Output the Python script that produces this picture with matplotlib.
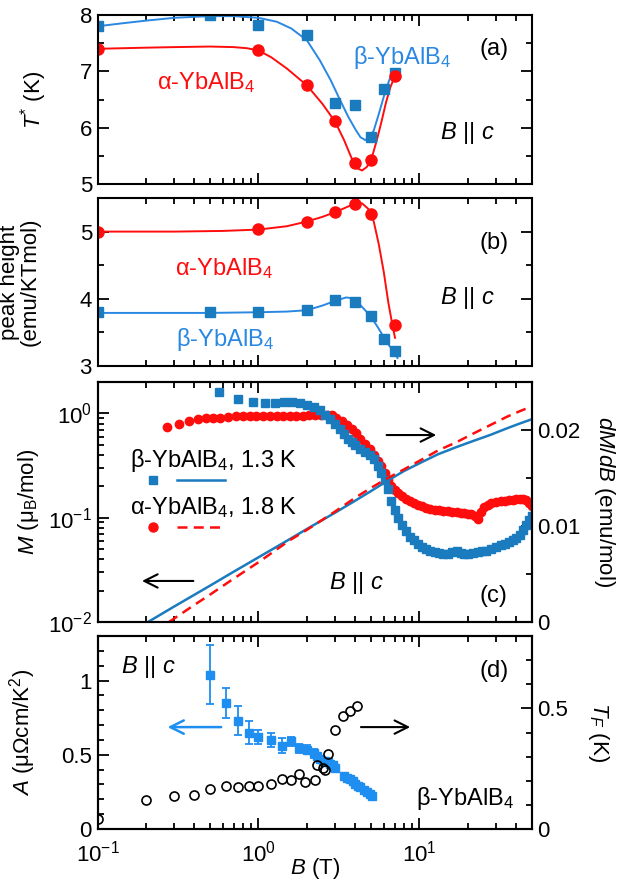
import numpy as np
import matplotlib
matplotlib.use('Agg')
import matplotlib.pyplot as plt
from matplotlib.ticker import MultipleLocator, LogLocator, NullFormatter, FuncFormatter

plt.rcParams['font.family'] = ['Liberation Sans', 'DejaVu Sans']
plt.rcParams['mathtext.fontset'] = 'custom'
plt.rcParams['mathtext.rm'] = 'Liberation Sans'
plt.rcParams['mathtext.it'] = 'Liberation Sans:italic'
plt.rcParams['mathtext.bf'] = 'Liberation Sans:bold'
plt.rcParams['font.size'] = 16

# ---------------- data ----------------
# (a) T* (K)
a_B_beta = [0.1, 0.5, 1.0, 2.0, 3.0, 4.0, 5.0, 6.0, 7.0]
a_T_beta = [7.80, 8.00, 7.83, 7.65, 6.44, 6.40, 5.83, 6.69, 6.97]
a_B_alpha = [0.1, 1.0, 2.0, 3.0, 4.0, 5.0, 7.0]
a_T_alpha = [7.40, 7.37, 6.75, 6.11, 5.37, 5.42, 6.91]
a_fitB_beta = [0.1, 0.15, 0.2, 0.3, 0.5, 0.7, 1.0, 1.3, 1.6, 2.0, 2.4, 2.8, 3.2, 3.6,
               4.0, 4.3, 4.6, 4.9, 5.2, 5.6, 6.0, 6.5, 7.0]
a_fitT_beta = [7.80, 7.86, 7.90, 7.95, 7.98, 7.98, 7.95, 7.88, 7.76, 7.55, 7.20, 6.85,
               6.50, 6.20, 5.97, 5.83, 5.78, 5.82, 5.95, 6.25, 6.55, 6.85, 7.02]
a_fitB_alpha = [0.1, 0.2, 0.3, 0.5, 0.7, 0.85, 1.0, 1.2, 1.5, 2.0, 2.5, 3.0, 3.4, 3.8,
                4.1, 4.4, 4.7, 5.0, 5.4, 5.8, 6.2, 6.6, 7.0]
a_fitT_alpha = [7.40, 7.42, 7.43, 7.44, 7.43, 7.41, 7.37, 7.25, 7.05, 6.75, 6.42, 6.10,
                5.78, 5.45, 5.28, 5.24, 5.30, 5.42, 5.75, 6.10, 6.45, 6.72, 6.90]

# (b) peak height (emu/KTmol)
b_B_alpha = [0.1, 1.0, 2.0, 3.0, 4.0, 5.0, 7.0]
b_P_alpha = [5.00, 5.04, 5.15, 5.29, 5.41, 5.26, 3.61]
b_B_beta = [0.1, 0.5, 1.0, 2.0, 3.0, 4.0, 5.0, 6.0, 7.0]
b_P_beta = [3.80, 3.80, 3.81, 3.83, 3.98, 3.95, 3.75, 3.40, 3.22]
b_fitB_alpha = [0.1, 0.3, 0.6, 1.0, 1.5, 2.0, 2.5, 3.0, 3.5, 4.0, 4.4, 4.8, 5.2, 5.6,
                6.0, 6.4, 6.8, 7.05]
b_fitP_alpha = [5.00, 5.00, 5.01, 5.03, 5.08, 5.15, 5.22, 5.29, 5.36, 5.42, 5.42, 5.34,
                5.15, 4.80, 4.40, 3.95, 3.60, 3.42]
b_fitB_beta = [0.1, 0.5, 1.0, 1.5, 2.0, 2.5, 3.0, 3.5, 3.8, 4.2, 4.6, 5.0, 5.5, 6.0,
               6.5, 7.0, 7.3]
b_fitP_beta = [3.79, 3.79, 3.80, 3.81, 3.83, 3.90, 3.97, 4.02, 4.01, 3.93, 3.83, 3.73,
               3.58, 3.43, 3.30, 3.20, 3.12]

# (c) magnetization M (muB/mol), left log axis
c_MB_beta = [0.206, 0.3, 0.5, 0.7, 1.0, 1.5, 2.0, 3.0, 4.0, 5.0, 6.3, 8.0, 10.5, 13.0,
             17.0, 22.0, 27.4, 35.0, 42.0, 50.0]
c_M_beta = [0.0100, 0.0141, 0.0223, 0.0303, 0.0417, 0.060, 0.078, 0.112, 0.146, 0.180,
            0.225, 0.28, 0.345, 0.405, 0.476, 0.55, 0.62, 0.72, 0.80, 0.88]
c_MB_alpha = [0.278, 0.4, 0.5, 0.7, 1.0, 1.57, 2.0, 3.0, 4.0, 5.0, 6.2, 8.0, 10.5, 13.0,
              17.0, 22.0, 27.4, 35.0, 42.0, 50.0]
c_M_alpha = [0.0100, 0.0146, 0.0183, 0.0260, 0.0374, 0.0610, 0.0765, 0.115, 0.156,
             0.193, 0.235, 0.29, 0.366, 0.44, 0.53, 0.65, 0.77, 0.93, 1.05, 1.17]
# (c) dM/dB (emu/mol), right axis
c_dB_beta = [0.565, 0.75, 0.92, 1.1, 1.27, 1.45, 1.62, 1.8, 2.0, 2.2, 2.4, 2.6, 2.8, 3.0,
             3.2, 3.4, 3.6, 3.8, 4.0, 4.3, 4.6, 4.9, 5.2, 5.5, 5.8, 6.1, 6.4, 6.7, 7.0,
             7.4, 7.8, 8.2, 8.7, 9.2, 9.8, 10.4, 11.0, 11.7, 12.4, 13.2, 14.0, 15.0, 16.0,
             17.0, 18.0, 19.0, 20.0, 21.5, 23.0, 24.5, 26.0, 28.0, 30.0, 32.0, 34.0, 36.0,
             38.0, 40.0, 42.0, 44.0, 46.0, 48.0, 50.0]
c_d_beta = [0.0240, 0.0232, 0.0229, 0.0228, 0.0228, 0.0229, 0.0229, 0.0228, 0.0226,
            0.0224, 0.0221, 0.0216, 0.0211, 0.0206, 0.0201, 0.0196, 0.0191, 0.0187,
            0.0184, 0.0180, 0.0177, 0.0174, 0.0170, 0.0163, 0.0155, 0.0148, 0.0139,
            0.0126, 0.0117, 0.0108, 0.0101, 0.0095, 0.0089, 0.0085, 0.0081, 0.0078,
            0.0076, 0.0074, 0.0073, 0.0072, 0.0071, 0.0071, 0.0073, 0.0074, 0.0072,
            0.0071, 0.0071, 0.0072, 0.0073, 0.0074, 0.0074, 0.0076, 0.0078, 0.0080,
            0.0081, 0.0083, 0.0085, 0.0088, 0.0091, 0.0096, 0.0101, 0.0106, 0.0110]
c_dB_alpha = [0.27, 0.32, 0.37, 0.42, 0.47, 0.52, 0.58, 0.65, 0.72, 0.8, 0.88, 0.97, 1.07,
              1.18, 1.3, 1.43, 1.57, 1.72, 1.88, 2.05, 2.25, 2.45, 2.65, 2.85, 3.05, 3.3,
              3.55, 3.8, 4.05, 4.3, 4.6, 4.9, 5.2, 5.5, 5.8, 6.1, 6.4, 6.7, 7.0, 7.4, 7.8,
              8.2, 8.7, 9.2, 9.8, 10.4, 11.0, 11.7, 12.4, 13.2, 14.0, 15.0, 16.0, 17.0,
              18.0, 19.0, 20.0, 21.0, 22.0, 23.0, 24.0, 25.0, 26.5, 28.0, 30.0, 32.0, 34.0,
              36.0, 38.0, 40.0, 42.0, 44.0, 46.0, 48.0, 50.0]
c_d_alpha = [0.0203, 0.0206, 0.0209, 0.0211, 0.0212, 0.0213, 0.0213, 0.0214, 0.0215,
             0.0215, 0.0215, 0.0215, 0.0215, 0.0215, 0.0215, 0.0215, 0.0215, 0.0215,
             0.0215, 0.0216, 0.0216, 0.0216, 0.0216, 0.0216, 0.0213, 0.0209, 0.0205,
             0.0201, 0.0197, 0.0191, 0.0185, 0.0180, 0.0174, 0.0168, 0.0162, 0.0155,
             0.0148, 0.0142, 0.0138, 0.0134, 0.0131, 0.0128, 0.0126, 0.0124, 0.0122,
             0.0121, 0.0119, 0.0118, 0.0117, 0.0117, 0.0116, 0.0116, 0.0115, 0.0115,
             0.0114, 0.0114, 0.0113, 0.0112, 0.0110, 0.0107, 0.0115, 0.0120, 0.0122,
             0.0124, 0.0125, 0.0126, 0.0126, 0.0127, 0.0127, 0.0128, 0.0128, 0.0128,
             0.0127, 0.0124, 0.0121]

# (d) A coefficient (muOhm cm/K^2), left axis
d_B_A = [0.5, 0.63, 0.75, 0.87, 1.0, 1.19, 1.4, 1.59, 1.79, 2.0, 2.2, 2.3, 2.4, 2.5,
         2.6, 2.7, 2.8, 2.9, 3.0, 3.4, 3.55, 3.7, 3.85, 4.0, 4.15, 4.3, 4.5, 4.7, 4.9,
         5.1]
d_A = [1.04, 0.85, 0.73, 0.65, 0.62, 0.60, 0.56, 0.59, 0.545, 0.535, 0.51, 0.49, 0.47,
       0.46, 0.455, 0.45, 0.44, 0.43, 0.41, 0.355, 0.345, 0.335, 0.32, 0.305, 0.29, 0.28,
       0.265, 0.25, 0.235, 0.225]
d_Aerr = [0.20, 0.10, 0.10, 0.075, 0.05, 0.05, 0.05, 0.03, 0.03, 0.03, 0.03, 0.02, 0.02,
          0.02, 0.02, 0.02, 0.015, 0.015, 0.015, 0.01, 0.01, 0.01, 0.01, 0.01, 0.01, 0.01,
          0.01, 0.01, 0.01, 0.01]
# (d) T_F (K), right axis
d_B_TF = [0.1, 0.2, 0.3, 0.4, 0.5, 0.63, 0.75, 0.87, 1.0, 1.19, 1.4, 1.59, 1.79, 1.95,
          2.25, 2.3, 2.5, 2.6, 2.7, 3.0, 3.33, 3.7, 4.1]
d_TF = [0.04, 0.12, 0.138, 0.142, 0.165, 0.179, 0.176, 0.179, 0.18, 0.186, 0.208, 0.203,
        0.228, 0.195, 0.203, 0.265, 0.253, 0.245, 0.31, 0.41, 0.47, 0.49, 0.51]

# ---------------- style ----------------
RED = '#ff0d0d'
BLUE_M = '#1a7bbf'
BLUE_L = '#2a88e2'
BLUE_D = '#1e8ef0'
TICK_FS = 16
LAB_FS = 16
TXT_FS = 17

W, H = 633, 884
fig = plt.figure(figsize=(W / 100, H / 100), dpi=100)
L, R = 97.5, 532


def make_ax(top, bottom):
    return fig.add_axes([L / W, 1 - bottom / H, (R - L) / W, (bottom - top) / H])


def style(ax, right=True):
    ax.tick_params(which='both', direction='in', top=True, right=right, width=1.3,
                   labelsize=TICK_FS)
    ax.tick_params(which='major', length=8, pad=4)
    ax.tick_params(which='minor', length=4)
    for sp in ax.spines.values():
        sp.set_linewidth(1.5)


def style_twin(ax):
    ax.tick_params(which='both', direction='in', right=True, width=1.3,
                   labelsize=TICK_FS)
    ax.tick_params(which='major', length=8, pad=4)
    ax.tick_params(which='minor', length=4)
    for sp in ax.spines.values():
        sp.set_linewidth(1.5)


def xlog(ax, labels=False):
    ax.set_xscale('log')
    ax.set_xlim(0.1, 50)
    ax.xaxis.set_major_locator(LogLocator(base=10))
    ax.xaxis.set_minor_locator(LogLocator(base=10, subs=np.arange(2, 10)))
    ax.xaxis.set_minor_formatter(NullFormatter())
    if not labels:
        ax.xaxis.set_major_formatter(NullFormatter())


fmt = FuncFormatter(lambda v, p: '0' if abs(v) < 1e-12 else f'{v:g}')
ARROW = '->,head_length=0.6,head_width=0.3'

# ---------- panel (a) ----------
axa = make_ax(15, 184)
xlog(axa)
axa.plot(a_fitB_beta, a_fitT_beta, color=BLUE_L, lw=1.4)
axa.plot(a_fitB_alpha, a_fitT_alpha, color=RED, lw=1.4)
axa.plot(a_B_beta, a_T_beta, 's', color=BLUE_M, ms=7.5, ls='none')
axa.plot(a_B_alpha, a_T_alpha, 'o', color=RED, ms=8, ls='none')
axa.set_ylim(5, 8)
axa.yaxis.set_major_locator(MultipleLocator(1))
axa.yaxis.set_minor_locator(MultipleLocator(0.5))
style(axa)
axa.set_ylabel(r'$T^{*}$ (K)', fontsize=LAB_FS)
axa.yaxis.set_label_coords(-0.112, 0.5)
axa.text(0.588, 0.75, r'β-YbAlB$_4$', color=BLUE_L, transform=axa.transAxes,
         fontsize=TXT_FS, va='center')
axa.text(0.912, 0.80, '(a)', transform=axa.transAxes, fontsize=TXT_FS, ha='center',
         va='center')
axa.text(0.137, 0.598, r'α-YbAlB$_4$', color=RED, transform=axa.transAxes,
         fontsize=TXT_FS, va='center')
axa.text(0.852, 0.30, r'$B$ || $c$', transform=axa.transAxes, fontsize=TXT_FS,
         ha='center', va='center')

# ---------- panel (b) ----------
axb = make_ax(198, 366)
xlog(axb)
axb.plot(b_fitB_alpha, b_fitP_alpha, color=RED, lw=1.4)
axb.plot(b_fitB_beta, b_fitP_beta, color=BLUE_L, lw=1.4)
axb.plot(b_B_alpha, b_P_alpha, 'o', color=RED, ms=8, ls='none')
axb.plot(b_B_beta, b_P_beta, 's', color=BLUE_M, ms=7.5, ls='none')
axb.set_ylim(3, 5.5)
axb.yaxis.set_major_locator(MultipleLocator(1))
axb.yaxis.set_minor_locator(MultipleLocator(0.5))
axb.yaxis.set_major_formatter(fmt)
style(axb)
axb.set_ylabel('peak height\n(emu/KTmol)', fontsize=LAB_FS, linespacing=1.0)
axb.yaxis.set_label_coords(-0.13, 0.5)
axb.text(0.912, 0.73, '(b)', transform=axb.transAxes, fontsize=TXT_FS, ha='center',
         va='center')
axb.text(0.178, 0.583, r'α-YbAlB$_4$', color=RED, transform=axb.transAxes,
         fontsize=TXT_FS, va='center')
axb.text(0.852, 0.405, r'$B$ || $c$', transform=axb.transAxes, fontsize=TXT_FS,
         ha='center', va='center')
axb.text(0.18, 0.155, r'β-YbAlB$_4$', color=BLUE_L, transform=axb.transAxes,
         fontsize=TXT_FS, va='center')

# ---------- panel (c) ----------
axc = make_ax(382, 622)
xlog(axc)
axc2 = axc.twinx()
axc.set_zorder(2)
axc.patch.set_visible(False)
axc2.set_zorder(1)
axc2.plot(c_dB_alpha, c_d_alpha, 'o', color=RED, ms=6, ls='none')
axc2.plot(c_dB_beta, c_d_beta, 's', color=BLUE_M, ms=5.3, ls='none')
axc.plot(c_MB_beta, c_M_beta, color=BLUE_M, lw=1.8)
axc.plot(c_MB_alpha, c_M_alpha, color=RED, lw=1.8, ls=(0, (4, 2.5)))
axc.set_yscale('log')
axc.set_ylim(0.01, 2)
axc.yaxis.set_major_locator(LogLocator(base=10))
axc.yaxis.set_minor_locator(LogLocator(base=10, subs=np.arange(2, 10)))
axc.yaxis.set_minor_formatter(NullFormatter())
axc2.set_ylim(0, 0.025)
axc2.yaxis.set_major_locator(MultipleLocator(0.01))
axc2.yaxis.set_minor_locator(MultipleLocator(0.005))
axc2.yaxis.set_major_formatter(fmt)
style(axc, right=False)
style_twin(axc2)
axc.set_xlim(0.1, 50)
axc.set_ylabel(r'$M$ (μ$_{\mathrm{B}}$/mol)', fontsize=LAB_FS)
axc.yaxis.set_label_coords(-0.13, 0.5)
axc2.set_ylabel(r'$dM/dB$ (emu/mol)', fontsize=LAB_FS, rotation=-90, va='center')
axc2.yaxis.set_label_coords(1.168, 0.5)
axc.text(0.075, 0.675, r'β-YbAlB$_4$, 1.3 K', transform=axc.transAxes,
         fontsize=TXT_FS, va='center')
axc.text(0.075, 0.475, r'α-YbAlB$_4$, 1.8 K', transform=axc.transAxes,
         fontsize=TXT_FS, va='center')
axc.plot([0.128], [0.592], 's', color=BLUE_M, ms=5.5, transform=axc.transAxes)
axc.plot([0.183, 0.294], [0.592, 0.592], color=BLUE_M, lw=1.8, transform=axc.transAxes)
axc.plot([0.128], [0.396], 'o', color=RED, ms=6.5, transform=axc.transAxes)
axc.plot([0.183, 0.294], [0.396, 0.396], color=RED, lw=1.8, ls=(0, (4, 2.5)),
         transform=axc.transAxes)
axc.annotate('', xy=(0.786, 0.779), xytext=(0.659, 0.779), xycoords='axes fraction',
             arrowprops=dict(arrowstyle=ARROW, color='black', lw=1.5))
axc.annotate('', xy=(0.096, 0.171), xytext=(0.227, 0.171), xycoords='axes fraction',
             arrowprops=dict(arrowstyle=ARROW, color='black', lw=1.5))
axc.text(0.595, 0.163, r'$B$ || $c$', transform=axc.transAxes, fontsize=TXT_FS,
         ha='center', va='center')
axc.text(0.912, 0.11, '(c)', transform=axc.transAxes, fontsize=TXT_FS, ha='center',
         va='center')

# ---------- panel (d) ----------
axd = make_ax(636, 829)
xlog(axd, labels=True)
axd2 = axd.twinx()
axd.errorbar(d_B_A, d_A, yerr=d_Aerr, fmt='s', color=BLUE_D, ms=5.5, capsize=3,
             elinewidth=1.3, capthick=1.3)
axd2.plot(d_B_TF, d_TF, 'o', mfc='none', mec='black', mew=1.2, ms=6.5, ls='none')
axd.set_ylim(0, 1.3)
axd.yaxis.set_major_locator(MultipleLocator(0.5))
axd.yaxis.set_minor_locator(MultipleLocator(0.1))
axd.yaxis.set_major_formatter(fmt)
axd2.set_ylim(0, 0.8)
axd2.yaxis.set_major_locator(MultipleLocator(0.5))
axd2.yaxis.set_minor_locator(MultipleLocator(0.1))
axd2.yaxis.set_major_formatter(fmt)
style(axd, right=False)
style_twin(axd2)
axd.tick_params(axis='x', which='major', pad=8)
axd.set_xlim(0.1, 50)
axd.set_ylabel(r'$A$ (μΩcm/K$^2$)', fontsize=LAB_FS)
axd.yaxis.set_label_coords(-0.137, 0.5)
axd2.set_ylabel(r'$T_F$ (K)', fontsize=LAB_FS, rotation=-90, va='center')
axd2.yaxis.set_label_coords(1.152, 0.5)
axd.set_xlabel(r'$B$ (T)', fontsize=LAB_FS, va='bottom')
axd.xaxis.set_label_coords(0.5, -0.268)
axd.text(0.055, 0.84, r'$B$ || $c$', transform=axd.transAxes, fontsize=TXT_FS,
         va='center')
axd.text(0.912, 0.82, '(d)', transform=axd.transAxes, fontsize=TXT_FS, ha='center',
         va='center')
axd.text(0.733, 0.16, r'β-YbAlB$_4$', transform=axd.transAxes, fontsize=TXT_FS,
         va='center')
axd.annotate('', xy=(0.155, 0.528), xytext=(0.291, 0.528), xycoords='axes fraction',
             arrowprops=dict(arrowstyle=ARROW, color=BLUE_D, lw=1.8))
axd.annotate('', xy=(0.726, 0.528), xytext=(0.6, 0.528), xycoords='axes fraction',
             arrowprops=dict(arrowstyle=ARROW, color='black', lw=1.5))

fig.savefig('out.png', dpi=100)
